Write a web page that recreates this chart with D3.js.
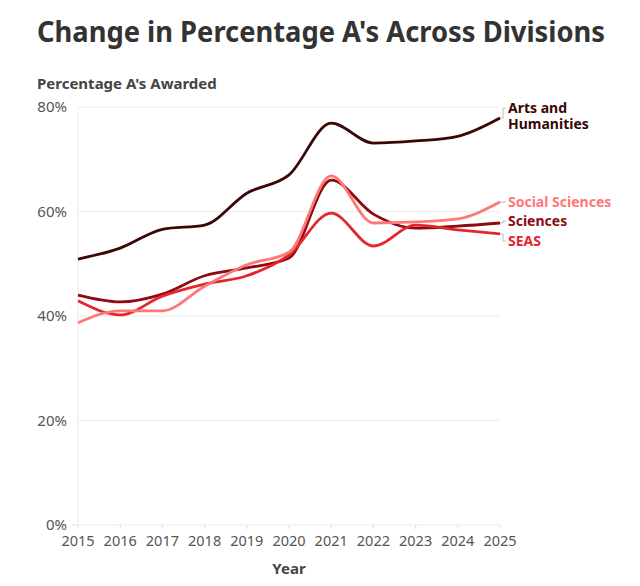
<!DOCTYPE html>
<html>
<head>
<meta charset="utf-8">
<script src="https://cdn.jsdelivr.net/npm/d3@7"></script>
<style>
  body { margin: 0; background: #fff; font-family: "Noto Sans", "Open Sans", sans-serif; }
  svg text { font-family: "Noto Sans", "Open Sans", sans-serif; }
</style>
</head>
<body>
<svg id="chart" width="640" height="586"></svg>
<script>
// ── Data ───────────────────────────────────────────────────────
const years = [2015, 2016, 2017, 2018, 2019, 2020, 2021, 2022, 2023, 2024, 2025];
const artsHum = [50.9, 53.0, 56.6, 57.4, 63.5, 67.0, 76.9, 73.1, 73.5, 74.4, 77.9];
const sciences = [44.0, 42.7, 44.2, 47.7, 49.2, 51.1, 66.0, 59.5, 56.8, 57.2, 57.8];
const seas = [42.9, 40.2, 43.8, 46.1, 47.7, 51.7, 59.7, 53.4, 57.4, 56.5, 55.7];
const socialSci = [38.7, 41.0, 41.0, 45.7, 49.8, 52.2, 66.8, 57.8, 58.0, 58.6, 61.8];
const yTicks = [0, 20, 40, 60, 80];

const series = [
  { name: ['Arts and', 'Humanities'], values: artsHum, color: '#3b0606', labelY: 108 },
  { name: ['Social Sciences'], values: socialSci, color: '#fd7878', labelY: 202 },
  { name: ['Sciences'], values: sciences, color: '#8e0a0e', labelY: 221 },
  { name: ['SEAS'], values: seas, color: '#e5262c', labelY: 241 }
];

const svg = d3.select('#chart');
const M = { left: 78, right: 500, top: 107, bottom: 525 };

const x = d3.scaleLinear().domain([2015, 2025]).range([M.left, M.right]);
const y = d3.scaleLinear().domain([0, 80]).range([M.bottom, M.top]);

// ── Titles ─────────────────────────────────────────────────────
svg.append('text').attr('x', 37).attr('y', 42)
  .attr('font-size', 29).attr('font-weight', 700).attr('fill', '#333')
  .attr('textLength', 568).attr('lengthAdjust', 'spacingAndGlyphs')
  .text("Change in Percentage A's Across Divisions");

svg.append('text').attr('x', 37).attr('y', 89)
  .attr('font-size', 15).attr('font-weight', 700).attr('fill', '#444')
  .text("Percentage A's Awarded");

// ── Grid + axes ────────────────────────────────────────────────
svg.append('g').selectAll('line').data(yTicks).join('line')
  .attr('x1', M.left).attr('x2', M.right)
  .attr('y1', d => y(d)).attr('y2', d => y(d))
  .attr('stroke', '#ebebeb').attr('stroke-width', 1);

svg.append('line').attr('x1', M.left).attr('x2', M.left)
  .attr('y1', M.top).attr('y2', M.bottom)
  .attr('stroke', '#ebebeb');

svg.append('g').selectAll('text').data(yTicks).join('text')
  .attr('x', 67).attr('y', d => y(d) + 5)
  .attr('text-anchor', 'end').attr('font-size', 15).attr('fill', '#555')
  .text(d => d + '%');

svg.append('line').attr('x1', 72).attr('x2', M.left)
  .attr('y1', M.bottom).attr('y2', M.bottom).attr('stroke', '#ddd');

svg.append('g').selectAll('line').data(years).join('line')
  .attr('x1', d => x(d)).attr('x2', d => x(d))
  .attr('y1', M.bottom).attr('y2', M.bottom + 4)
  .attr('stroke', '#ddd');

svg.append('g').selectAll('text').data(years).join('text')
  .attr('x', d => x(d)).attr('y', 546)
  .attr('text-anchor', 'middle').attr('font-size', 14.5).attr('fill', '#555')
  .text(d => d);

svg.append('text').attr('x', x(2020)).attr('y', 574)
  .attr('text-anchor', 'middle').attr('font-size', 15).attr('font-weight', 700)
  .attr('fill', '#444').text('Year');

// ── Lines ──────────────────────────────────────────────────────
const line = d3.line()
  .x((d, i) => x(years[i]))
  .y(d => y(d))
  .curve(d3.curveMonotoneX);

const drawOrder = [series[0], series[2], series[3], series[1]];
svg.append('g').selectAll('path').data(drawOrder).join('path')
  .attr('d', d => line(d.values))
  .attr('fill', 'none')
  .attr('stroke', d => d.color)
  .attr('stroke-width', 2.8)
  .attr('stroke-linejoin', 'round');

// ── End labels with leader lines ──────────────────────────────
const labG = svg.append('g');
series.forEach(s => {
  const ey = y(s.values[s.values.length - 1]);
  const ly = s.labelY;
  labG.append('path')
    .attr('d', `M${M.right},${ey}H${M.right + 3}V${ly}H${M.right + 6}`)
    .attr('fill', 'none').attr('stroke', '#bbb').attr('stroke-width', 1);
  s.name.forEach((n, i) => {
    labG.append('text')
      .attr('x', M.right + 8).attr('y', ly + 5 + i * 16)
      .attr('font-size', 14).attr('font-weight', 700).attr('fill', s.color)
      .text(n);
  });
});
</script>
</body>
</html>
